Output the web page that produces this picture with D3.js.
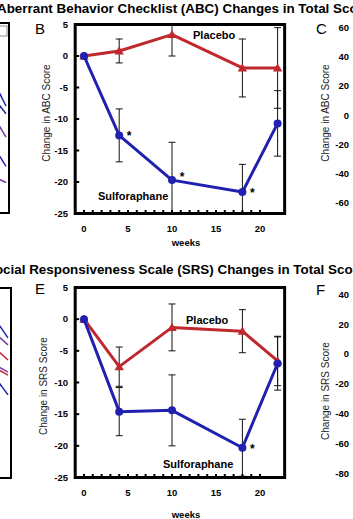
<!DOCTYPE html>
<html>
<head>
<meta charset="utf-8">
<script src="https://cdn.jsdelivr.net/npm/d3@7"></script>
<style>
  body { margin: 0; background: #fff; }
  svg { display: block; font-family: "Liberation Sans", Arial, sans-serif; }
</style>
</head>
<body>
<div id="main"></div>
<script>
// values
var weeks = [0, 4, 10, 18, 22];
var weekTicks = [0, 5, 10, 15, 20];
var minorWeeks = d3.range(0, 21);
var scoreTicks = [5, 0, -5, -10, -15, -20, -25];

var abcSulforaphane = [0, -12.6, -19.7, -21.6, -10.7];
var abcSulforaphaneErr = [0, 4.2, 6.0, 4.4, 5.2];
var abcPlacebo = [0, 0.8, 3.4, -1.9, -1.9];
var abcPlaceboErr = [0, 1.9, 3.4, 4.6, 6.4];
var abcStars = [4, 10, 18];

var srsSulforaphane = [0, -14.6, -14.4, -20.3, -7.0];
var srsSulforaphaneErr = [0, 3.8, 5.6, 4.5, 4.2];
var srsPlacebo = [0, -7.5, -1.3, -1.9, -6.6];
var srsPlaceboErr = [0, 3.1, 3.7, 3.4, 3.9];
var srsStars = [18];

var cTicks = [60, 40, 20, 0, -20, -40, -60];
var fTicks = [40, 20, 0, -20, -40, -60, -80];

// bits of panels A and D that stick in at the left edge
var aBlue = [[18.6, 6.3], [9, 1], [-25, -35]];
var aPurple = [[-4.5, -15], [-43, -46]];
var dBlue = [[21.6, 10.9], [-17.3, -27.3]];
var dPurple = [[12.9, 6.2], [-8, -12]];
var dRed = [[2.8, -3.9], [-10, -14]];

var red = "#c0282d", blue = "#2121b0";

var svg = d3.select("#main").append("svg")
    .attr("width", 353)
    .attr("height", 519);
svg.append("rect").attr("width", 353).attr("height", 519).attr("fill", "#fff");

var x = d3.scaleLinear().domain([0, 20]).range([84, 260]);

function panel(opt) {
  var y = d3.scaleLinear().domain([5, -25]).range(opt.yRange);
  var g = svg.append("g");
  var clipId = "clip" + opt.letter;
  svg.append("clipPath").attr("id", clipId)
    .append("rect")
      .attr("x", x(-1)).attr("y", y(5))
      .attr("width", x(22.8) - x(-1)).attr("height", y(-25) - y(5));

  var inner = g.append("g").attr("clip-path", "url(#" + clipId + ")");

  function series(vals, errs) {
    var pts = weeks.map(function(w, i) { return {w: w, v: vals[i], e: errs[i]}; });
    var eb = inner.append("g").attr("stroke", "#111").attr("stroke-width", 1)
      .selectAll("g").data(pts.filter(function(d) { return d.e > 0; })).enter().append("g");
    eb.append("line")
      .attr("x1", function(d) { return x(d.w); }).attr("x2", function(d) { return x(d.w); })
      .attr("y1", function(d) { return y(d.v + d.e); }).attr("y2", function(d) { return y(d.v - d.e); });
    [1, -1].forEach(function(s) {
      eb.append("line")
        .attr("x1", function(d) { return x(d.w) - 3.5; }).attr("x2", function(d) { return x(d.w) + 3.5; })
        .attr("y1", function(d) { return y(d.v + s * d.e); }).attr("y2", function(d) { return y(d.v + s * d.e); });
    });
    return pts;
  }

  var pp = series(opt.placebo, opt.placeboErr);
  var sp = series(opt.sulf, opt.sulfErr);

  var line = d3.line().x(function(d) { return x(d.w); }).y(function(d) { return y(d.v); });
  inner.append("path").datum(pp).attr("d", line)
    .attr("fill", "none").attr("stroke", red).attr("stroke-width", 3).attr("stroke-linejoin", "round");
  inner.selectAll(".tri").data(pp).enter().append("path")
    .attr("transform", function(d) { return "translate(" + x(d.w) + "," + (y(d.v) + 0.8) + ")"; })
    .attr("d", d3.symbol().type(d3.symbolTriangle).size(38))
    .attr("fill", red);
  inner.append("path").datum(sp).attr("d", line)
    .attr("fill", "none").attr("stroke", blue).attr("stroke-width", 3).attr("stroke-linejoin", "round");
  inner.selectAll(".dot").data(sp).enter().append("circle")
    .attr("cx", function(d) { return x(d.w); }).attr("cy", function(d) { return y(d.v); })
    .attr("r", 4).attr("fill", blue);

  // asterisks
  g.selectAll(".star").data(opt.stars).enter().append("text")
    .attr("x", function(w) { return x(w) + 10; })
    .attr("y", function(w) { return y(opt.sulf[weeks.indexOf(w)]) + (w === 10 ? 1 : 5); })
    .attr("text-anchor", "middle")
    .style("font", "bold 12px 'Liberation Sans', Arial")
    .text("*");

  // frame
  g.append("rect")
    .attr("x", x(-1)).attr("y", y(5))
    .attr("width", x(22.8) - x(-1)).attr("height", y(-25) - y(5))
    .attr("fill", "none").attr("stroke", "#000").attr("stroke-width", 3);

  // ticks
  g.selectAll(".yt").data(scoreTicks).enter().append("line")
    .attr("x1", x(-1)).attr("x2", x(-1) + 4)
    .attr("y1", function(d) { return y(d); }).attr("y2", function(d) { return y(d); })
    .attr("stroke", "#000").attr("stroke-width", 2);
  g.selectAll(".xt").data(minorWeeks).enter().append("line")
    .attr("x1", function(d) { return x(d); }).attr("x2", function(d) { return x(d); })
    .attr("y1", y(-25)).attr("y2", y(-25) - 3.5)
    .attr("stroke", "#000").attr("stroke-width", 2);

  g.selectAll(".yl").data(scoreTicks).enter().append("text")
    .attr("x", 68).attr("y", function(d) { return y(d); }).attr("dy", "0.35em")
    .attr("text-anchor", "end")
    .style("font", "bold 9.5px 'Liberation Sans', Arial")
    .text(function(d) { return d; });
  g.selectAll(".xl").data(weekTicks).enter().append("text")
    .attr("x", function(d) { return x(d); }).attr("y", y(-25) + 15).attr("dy", "0.35em")
    .attr("text-anchor", "middle")
    .style("font", "bold 9.5px 'Liberation Sans', Arial")
    .text(function(d) { return d; });

  g.append("text").attr("x", 186).attr("y", opt.weeksY).attr("dy", "0.35em")
    .attr("text-anchor", "middle")
    .style("font", "bold 9.5px 'Liberation Sans', Arial")
    .text("weeks");

  g.append("text")
    .attr("transform", "translate(" + opt.labelX + "," + opt.labelY + ") rotate(-90)")
    .attr("dy", "0.35em").attr("text-anchor", "middle")
    .style("font", "10px 'Liberation Sans', Arial").attr("fill", "#222")
    .text(opt.ylabel);

  g.append("text").attr("x", opt.placeboPos[0]).attr("y", opt.placeboPos[1]).attr("dy", "0.35em")
    .style("font", "bold 11px 'Liberation Sans', Arial").text("Placebo");
  g.append("text").attr("x", opt.sulfPos[0]).attr("y", opt.sulfPos[1]).attr("dy", "0.35em")
    .style("font", "bold 11px 'Liberation Sans', Arial").text("Sulforaphane");

  g.append("text").attr("x", 35).attr("y", opt.letterY)
    .style("font", "15px 'Liberation Sans', Arial").text(opt.letter);
}

panel({
  letter: "B", yRange: [24.5, 213.5], letterY: 33.5,
  sulf: abcSulforaphane, sulfErr: abcSulforaphaneErr,
  placebo: abcPlacebo, placeboErr: abcPlaceboErr, stars: abcStars,
  ylabel: "Change in ABC Score", labelX: 46, labelY: 113,
  placeboPos: [193, 35], sulfPos: [98, 196.5], weeksY: 242.5
});
panel({
  letter: "E", yRange: [287.5, 477.5], letterY: 294,
  sulf: srsSulforaphane, sulfErr: srsSulforaphaneErr,
  placebo: srsPlacebo, placeboErr: srsPlaceboErr, stars: srsStars,
  ylabel: "Change in SRS Score", labelX: 43, labelY: 386,
  placeboPos: [186, 320], sulfPos: [163, 464], weeksY: 514.5
});

// titles, cut off at both sides like the crop
svg.append("text").attr("x", -3).attr("y", 13)
  .style("font", "bold 13.4px 'Liberation Sans', Arial")
  .text("Aberrant Behavior Checklist (ABC) Changes in Total Score");
svg.append("text").attr("x", -14).attr("y", 274)
  .style("font", "bold 13.4px 'Liberation Sans', Arial")
  .text("Social Responsiveness Scale (SRS) Changes in Total Score");

// right-hand panels C and F: only their y axes show
function rightAxis(ticks, range, letter, letterY, label, labelY) {
  var y = d3.scaleLinear().domain([ticks[0], ticks[ticks.length - 1]]).range(range);
  svg.append("g").selectAll("text").data(ticks).enter().append("text")
    .attr("x", 349).attr("y", function(d) { return y(d); }).attr("dy", "0.35em")
    .attr("text-anchor", "end")
    .style("font", "bold 9.5px 'Liberation Sans', Arial")
    .text(function(d) { return d; });
  svg.append("text")
    .attr("transform", "translate(325," + labelY + ") rotate(-90)")
    .attr("dy", "0.35em").attr("text-anchor", "middle")
    .style("font", "10px 'Liberation Sans', Arial").attr("fill", "#222")
    .text(label);
  svg.append("text").attr("x", 316).attr("y", letterY)
    .style("font", "15px 'Liberation Sans', Arial").text(letter);
}
rightAxis(cTicks, [27.5, 203], "C", 33.5, "Change in ABC Score", 113);
rightAxis(fTicks, [294.5, 473.5], "F", 295, "Change in SRS Score", 391);

// left-hand panels A and D: only their right edge shows
function leftEdge(top, bottom, right, yr, dom, groups) {
  var y = d3.scaleLinear().domain(dom).range(yr);
  var xe = d3.scaleLinear().domain([0, 1]).range([-3, right - 3]);
  var g = svg.append("g");
  groups.forEach(function(gr) {
    g.selectAll(null).data(gr.segs).enter().append("line")
      .attr("x1", xe(0)).attr("x2", xe(1))
      .attr("y1", function(d) { return y(d[0]); }).attr("y2", function(d) { return y(d[1]); })
      .attr("stroke", gr.color).attr("stroke-width", 1.5);
  });
  g.append("path")
    .attr("d", "M0," + top + "H" + right + "V" + bottom + "H0")
    .attr("fill", "none").attr("stroke", "#000").attr("stroke-width", 2);
}
leftEdge(23, 213, 9, [27.5, 203], [60, -60],
  [{color: blue, segs: aBlue}, {color: "#7a3aa8", segs: aPurple}]);
leftEdge(288, 478, 11, [294.5, 473.5], [40, -80],
  [{color: blue, segs: dBlue}, {color: "#7a3aa8", segs: dPurple}, {color: red, segs: dRed}]);
// legend box corner of panel A
svg.append("rect").attr("x", -12).attr("y", 26).attr("width", 19).attr("height", 10)
  .attr("fill", "none").attr("stroke", "#888").attr("stroke-width", 1);
</script>
</body>
</html>
